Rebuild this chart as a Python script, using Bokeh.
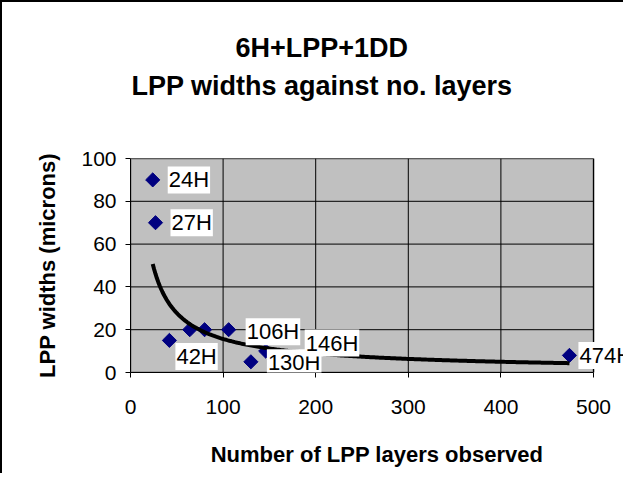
import numpy as np
from bokeh.plotting import figure
from bokeh.models import Label, Title, Range1d, FixedTicker, InlineStyleSheet
from bokeh.embed import file_html
from bokeh.resources import INLINE

# ---- data ----
layers = [24, 27, 42, 64, 80, 106, 130, 146, 474]
widths = [90, 70, 15, 20, 20, 20, 5, 10, 8]
names = ["24H", "27H", "42H", "", "", "106H", "130H", "146H", "474H"]
lab_dx = [15, 15, 6, 0, 0, 17, 16, 39, 9]
lab_dy = [0, 0, -16, 0, 0, -2, -1, 8, 0]
x_ticks = [0, 100, 200, 300, 400, 500]
y_ticks = [0, 20, 40, 60, 80, 100]
x_max, y_max = 500, 100
title1 = "6H+LPP+1DD"
title2 = "LPP widths against no. layers"
x_title = "Number of LPP layers observed"
y_title = "LPP widths (microns)"

FONT = "Liberation Sans"

# power trendline fitted to data
lx = np.log(np.array(layers, float))
ly = np.log(np.array(widths, float))
b, lna = np.polyfit(lx, ly, 1)
tx = np.linspace(min(layers), max(layers), 300)
ty = np.exp(lna) * tx ** b

W, H = 623, 473
BL, BT, BB = 130, 158, 101
plot_w = 463                     # pixel width of the grey plot area (0..500)
frame_w = W - BL
x_end = x_max * frame_w / plot_w

p = figure(width=W, height=H, output_backend="svg", toolbar_location=None,
           x_range=Range1d(0, x_end), y_range=Range1d(0, y_max),
           min_border_left=BL, min_border_right=0, min_border_top=BT,
           min_border_bottom=BB)
p.stylesheets = [InlineStyleSheet(css=":host { box-shadow: inset 2px 2px 0 0 #000; }")]

p.background_fill_alpha = 0
p.border_fill_alpha = 0
p.outline_line_color = None
p.xgrid.visible = False
p.ygrid.visible = False

for ax, ticks in ((p.xaxis, x_ticks), (p.yaxis, y_ticks)):
    ax.ticker = FixedTicker(ticks=ticks)
    ax.minor_tick_line_color = None
    ax.major_tick_in = 0
    ax.major_tick_out = 5
    ax.axis_line_color = "black"
    ax.major_tick_line_color = "black"
    ax.major_label_text_font = FONT
    ax.major_label_text_font_size = "21px"
    ax.major_label_text_color = "black"
    ax.axis_label_text_font = FONT
    ax.axis_label_text_font_size = "22px"
    ax.axis_label_text_font_style = "bold"
    ax.axis_label_text_color = "black"
p.xaxis.bounds = (0, x_max)

p.xaxis.axis_label = x_title
p.yaxis.axis_label = y_title
p.xaxis.major_label_standoff = 22
p.xaxis.axis_label_standoff = 25
p.yaxis.major_label_standoff = 9
p.yaxis.axis_label_standoff = 18

# spacer between the plot area and the two title lines
p.add_layout(Title(text=" ", text_font_size="1px", standoff=52), "above")
p.add_layout(Title(text=title2, align="left", offset=1, text_font=FONT, text_font_size="27px",
                   text_font_style="bold", text_color="black", standoff=6), "above")
p.add_layout(Title(text=title1, align="left", offset=105, text_font=FONT, text_font_size="27px",
                   text_font_style="bold", text_color="black", standoff=6), "above")

# grey plot area with grey border
p.quad(left=[0], right=[x_max], bottom=[0], top=[y_max], fill_color="#C0C0C0",
       line_color="#808080", line_width=2)
# gridlines
p.segment(x0=x_ticks[1:], y0=[0] * (len(x_ticks) - 1), x1=x_ticks[1:], y1=[y_max] * (len(x_ticks) - 1),
          line_color="black", line_width=1)
p.segment(x0=[0] * (len(y_ticks) - 1), y0=y_ticks[1:], x1=[x_max] * (len(y_ticks) - 1), y1=y_ticks[1:],
          line_color="black", line_width=1)

p.scatter(layers, widths, marker="square", angle=np.pi / 4, size=10,
          fill_color="#000080", line_color="#000080")
p.line(tx, ty, line_color="black", line_width=4)

for xv, yv, nm, dx, dy in zip(layers, widths, names, lab_dx, lab_dy):
    if not nm:
        continue
    p.add_layout(Label(x=xv, y=yv, text=nm, x_offset=dx, y_offset=dy,
                       text_font=FONT, text_font_size="22px", text_color="black",
                       text_align="left", text_baseline="middle", padding=1,
                       background_fill_color="white", background_fill_alpha=1.0))

open("out.html", "w").write(file_html(p, INLINE))
